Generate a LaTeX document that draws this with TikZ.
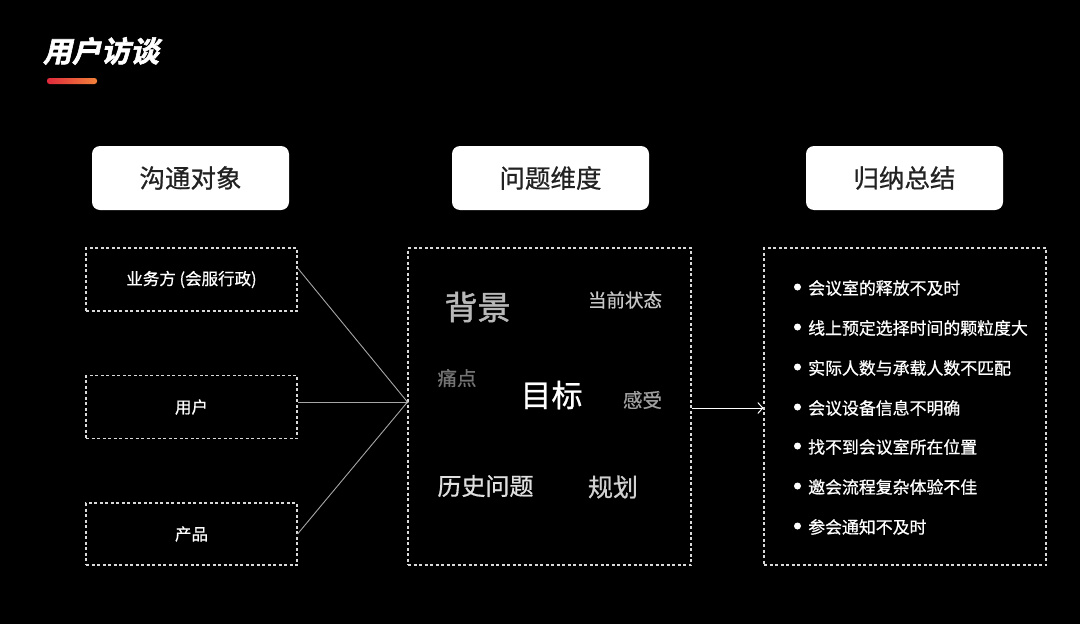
\documentclass[tikz,border=0pt]{standalone}
\usepackage{fontspec}
\setmainfont{Noto Sans CJK SC}
\newfontfamily\titlefont[FakeSlant=0.22,FakeBold=2]{Noto Sans CJK SC Bold}
\newfontfamily\medfont[FakeBold=0.7]{Noto Sans CJK SC}
\newfontfamily\semifont[FakeBold=1.4]{Noto Sans CJK SC}
\usetikzlibrary{arrows.meta,calc}
\definecolor{hdtext}{HTML}{222222}
\definecolor{barred}{HTML}{E02A3C}
\definecolor{barorange}{HTML}{F2823A}
\tikzset{
  hdbox/.style={fill=white,rounded corners=8pt,minimum width=197pt,minimum height=64pt,inner sep=0pt,font=\medfont\fontsize{25.5}{25.5}\selectfont,text=hdtext},
  dbox/.style={draw=white!85!black,dash pattern=on 3pt off 2.5pt,line width=1.1pt,inner sep=0pt,text=white},
  conn/.style={draw=white!65!black,line width=0.9pt},
  item/.style={anchor=west,inner sep=0pt,text=white,font=\medfont\fontsize{16.9}{16.9}\selectfont},
  dot/.style={circle,fill=white,inner sep=0pt,minimum size=7pt},
  word/.style={inner sep=0pt}
}
\begin{document}
\begin{tikzpicture}[x=1pt,y=-1pt]
\fill[black] (0,0) rectangle (1080,624);
\useasboundingbox (0,0) rectangle (1080,624);
% title
\node[word,text=white,font=\titlefont\fontsize{29}{29}\selectfont] (title) at (101,51) {用户访谈};
\shade[left color=barred,right color=barorange,rounded corners=2.5pt] (47,78) rectangle (97,84);
% headers
\node[hdbox] (h1) at (190.5,178) {沟通对象};
\node[hdbox] (h2) at (550.5,178) {问题维度};
\node[hdbox] (h3) at (904.5,178) {归纳总结};
% left boxes
\node[dbox,minimum width=211pt,minimum height=63pt,font=\medfont\fontsize{16.5}{16.5}\selectfont] (b1) at (191.5,279.5) {业务方 (会服行政)};
\node[dbox,minimum width=211pt,minimum height=63pt,font=\medfont\fontsize{16.5}{16.5}\selectfont] (b2) at (191.5,407) {用户};
\node[dbox,minimum width=211pt,minimum height=62pt,font=\medfont\fontsize{16.5}{16.5}\selectfont] (b3) at (191.5,534) {产品};
% middle box
\node[dbox,minimum width=283pt,minimum height=317pt] (m) at (549.5,406.5) {};
% right box
\node[dbox,minimum width=282pt,minimum height=317pt] (r) at (905,406.5) {};
% join point
\coordinate (join) at ($(m.west)+(0,-4.5)$);
\coordinate (s1) at ($(b1.north east)!0.32!(b1.south east)$);
\coordinate (s2) at ($(b2.east)+(0,-5)$);
\draw[conn] (s1) -- (join);
\draw[conn] (s2) -- (join);
\draw[conn] (b3.east) -- (join);
\fill[white!75!black] (join) circle (1.3pt);
% right arrow
\coordinate (a1) at ($(m.east)+(0,1.5)$);
\coordinate (a2) at ($(r.west)+(0,1.5)$);
\draw[white,line width=1pt,-{Straight Barb[length=5pt,width=11pt,line width=1pt]}] (a1) -- (a2);
% middle words
\node[word,text=white!72!black,font=\semifont\fontsize{33}{33}\selectfont] (w1) at (477.5,307) {背景};
\node[word,text=white!78!black,font=\medfont\fontsize{18.5}{18.5}\selectfont] (w2) at (625,300) {当前状态};
\node[word,text=white!45!black,font=\medfont\fontsize{19.5}{19.5}\selectfont] (w3) at (457,378) {痛点};
\node[word,text=white,font=\medfont\fontsize{31}{31}\selectfont] (w4) at (551.5,395) {目标};
\node[word,text=white!62!black,font=\medfont\fontsize{19.5}{19.5}\selectfont] (w5) at (642.5,400) {感受};
\node[word,text=white!88!black,font=\medfont\fontsize{24}{24}\selectfont] (w6) at (485.5,486) {历史问题};
\node[word,text=white!82!black,font=\medfont\fontsize{25}{25}\selectfont] (w7) at (613,487) {规划};
% right list
\foreach \i/\t/\yy in {1/会议室的释放不及时/288, 2/线上预定选择时间的颗粒度大/328, 3/实际人数与承载人数不匹配/368, 4/会议设备信息不明确/408, 5/找不到会议室所在位置/447, 6/邀会流程复杂体验不佳/487, 7/参会通知不及时/527}{
  \node[dot] (d\i) at (797.5,\yy-1) {};
  \node[item] (t\i) at (808,\yy) {\t};
}
\end{tikzpicture}
\end{document}
